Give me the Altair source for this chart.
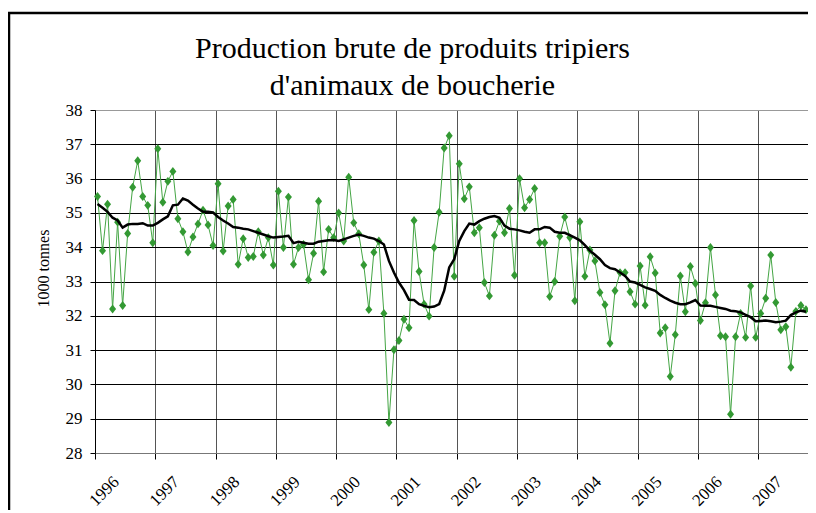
import altair as alt
import pandas as pd

# Monthly production (1000 tonnes), Jan 1996 .. Oct 2007
production = [
    35.48, 33.90, 35.25, 32.20, 34.73, 32.30, 34.40, 35.75, 36.52, 35.48, 35.22, 34.13,
    36.87, 35.31, 35.92, 36.21, 34.83, 34.45, 33.86, 34.30, 34.68, 35.08, 34.65, 34.05,
    35.85, 33.89, 35.20, 35.39, 33.50, 34.25, 33.70, 33.73, 34.45, 33.77, 34.28, 33.48,
    35.63, 33.99, 35.46, 33.50, 33.99, 34.08, 33.05, 33.82, 35.34, 33.28, 34.52, 34.28,
    35.00, 34.18, 36.04, 34.71, 34.39, 33.48, 32.18, 33.85, 34.18, 32.07, 28.89, 31.01,
    31.28, 31.90, 31.65, 34.78, 33.29, 32.34, 31.99, 33.99, 35.02, 36.89, 37.25, 33.15,
    36.43, 35.41, 35.76, 34.42, 34.57, 32.97, 32.58, 34.35, 34.76, 34.42, 35.13, 33.18,
    36.00, 35.15, 35.39, 35.71, 34.13, 34.13, 32.56, 33.00, 34.32, 34.88, 34.28, 32.44,
    34.74, 33.15, 33.92, 33.60, 32.68, 32.32, 31.20, 32.73, 33.26, 33.26, 32.70, 32.34,
    33.45, 32.31, 33.72, 33.25, 31.50, 31.65, 30.23, 31.45, 33.16, 32.12, 33.44, 32.94,
    31.86, 32.38, 33.99, 32.61, 31.42, 31.39, 29.13, 31.39, 32.07, 31.37, 32.87, 31.37,
    32.07, 32.51, 33.77, 32.39, 31.59, 31.68, 30.50, 32.13, 32.30, 32.18,
]

# Moving average (black line), same months
moyenne = [
    35.26, 35.15, 35.03, 34.86, 34.78, 34.57, 34.66, 34.68, 34.68, 34.70, 34.63, 34.63,
    34.71, 34.81, 34.90, 35.22, 35.24, 35.42, 35.36, 35.24, 35.13, 35.03, 35.03, 35.01,
    34.88, 34.78, 34.69, 34.59, 34.57, 34.54, 34.52, 34.47, 34.42, 34.37, 34.32, 34.28,
    34.30, 34.31, 34.33, 34.12, 34.16, 34.13, 34.10, 34.10, 34.16, 34.18, 34.20, 34.21,
    34.18, 34.23, 34.28, 34.33, 34.37, 34.33, 34.28, 34.25, 34.18, 34.08, 33.60, 33.26,
    32.97, 32.75, 32.47, 32.46, 32.34, 32.29, 32.25, 32.27, 32.34, 32.73, 33.41, 33.65,
    34.18, 34.47, 34.69, 34.66, 34.76, 34.83, 34.88, 34.91, 34.86, 34.63, 34.54, 34.52,
    34.49, 34.45, 34.42, 34.52, 34.52, 34.59, 34.57, 34.45, 34.42, 34.42, 34.35, 34.28,
    34.20, 34.06, 33.90, 33.78, 33.65, 33.48, 33.39, 33.36, 33.26, 33.16, 33.00, 32.97,
    32.90, 32.83, 32.78, 32.73, 32.61, 32.52, 32.44, 32.38, 32.34, 32.34, 32.39, 32.46,
    32.30, 32.29, 32.29, 32.26, 32.23, 32.20, 32.15, 32.13, 32.10, 32.03, 31.96, 31.84,
    31.85, 31.86, 31.84, 31.81, 31.83, 31.86, 32.02, 32.10, 32.15, 32.12,
]

years = list(range(1996, 2008))
y_ticks = list(range(28, 39))
title_lines = ["Production brute de produits tripiers", "d'animaux de boucherie"]
y_title = "1000 tonnes"

# month position in decimal years (centre of each month)
t = [1996 + (i + 0.5) / 12 for i in range(len(production))]
df = pd.DataFrame({"t": t, "production": production, "moyenne": moyenne})

FONT = "Liberation Serif"
W, H = 713, 343
PX_PER_YEAR = 60.29

x_scale = alt.Scale(domain=[1996, 1996 + W / PX_PER_YEAR], nice=False, zero=False)
x_axis = alt.Axis(
    values=years, format="d", title=None,
    labelAngle=-45, labelAlign="right", labelBaseline="middle",
    labelOffset=21, labelPadding=20, tickSize=6,
    labelFontSize=17, labelColor="black",
    labelOverlap=False, labelFlush=False, labelBound=False,
    grid=True, gridColor="#555555", gridWidth=1,
    domainColor="#777777", tickColor="black",
)
y_scale = alt.Scale(domain=[28, 38], nice=False, zero=False)
y_axis = alt.Axis(
    values=y_ticks, title=y_title, tickSize=5, labelPadding=8,
    labelFontSize=17, labelColor="black",
    grid=True, gridWidth=1,
    gridColor=alt.condition("datum.value == 38", alt.value("#999999"), alt.value("black")),
    domainColor="black", tickColor="black",
    titleFontSize=16, titleFontWeight="normal", titleColor="black",
    titleX=-47, titleY=158, titleAlign="center", titleBaseline="alphabetic",
)

X = alt.X("t:Q", scale=x_scale, axis=x_axis)
base = alt.Chart(df)

line = base.mark_line(color="#44a544", strokeWidth=1).encode(
    x=X, y=alt.Y("production:Q", scale=y_scale, axis=y_axis)
)
points = base.mark_point(
    shape="M0,-1.15L0.9,0L0,1.15L-0.9,0Z", filled=True, size=60,
    color="#339933", opacity=1,
).encode(x=X, y=alt.Y("production:Q", scale=y_scale, axis=y_axis))
ma = base.mark_line(color="black", strokeWidth=2.5).encode(
    x=X, y=alt.Y("moyenne:Q", scale=y_scale, axis=y_axis)
)

frame_df = pd.DataFrame({"k": [0]})
frame_left = alt.Chart(frame_df).mark_rule(color="black", strokeWidth=2.5).encode(
    x=alt.value(-86), y=alt.value(-97), y2=alt.value(400)
)
frame_top = alt.Chart(frame_df).mark_rule(color="black", strokeWidth=2.5).encode(
    x=alt.value(-87), x2=alt.value(W), y=alt.value(-97)
)

chart = alt.layer(line, points, ma, frame_left, frame_top).properties(
    width=W, height=H,
    padding={"left": 87, "top": 102, "right": 0, "bottom": 58},
    autosize=alt.AutoSizeParams(type="none"),
    title=alt.TitleParams(
        text=title_lines, font=FONT, fontSize=30, fontWeight="normal",
        color="black", anchor="middle", dx=-39, offset=-119, lineHeight=37,
        baseline="bottom",
    ),
).configure(
    background="white", font=FONT,
    style={"guide-label": {"font": FONT}, "guide-title": {"font": FONT}},
).configure_view(stroke=None).configure_axis(
    labelFont=FONT, titleFont=FONT
).configure_title(font=FONT)

chart.save("out.html", embed_options={"renderer": "svg", "actions": False})
